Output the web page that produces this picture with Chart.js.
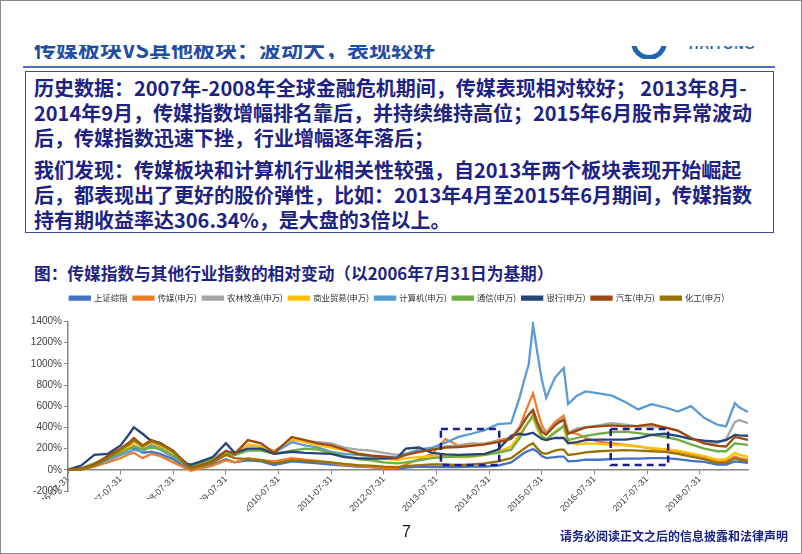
<!DOCTYPE html>
<html>
<head>
<meta charset="utf-8">
<script src="https://cdn.jsdelivr.net/npm/chart.js@4.4.0/dist/chart.umd.min.js"></script>
<style>
  body { margin: 0; width: 802px; height: 554px; overflow: hidden; background: #fff; position: relative;
         font-family: "Liberation Sans Narrow", "Noto Sans CJK SC", sans-serif; }
  .frame { position: absolute; left: 0; top: 0; width: 800px; height: 552px; border: 1px solid #8a8a8a; }
  .clip { position: absolute; overflow: hidden; }
  .title { position: absolute; left: 0; top: -13px; font: bold 22px "Liberation Sans Narrow", "Noto Sans CJK SC", sans-serif;
           color: #1f4ea3; white-space: nowrap; }
  .rule { position: absolute; left: 23px; top: 66px; width: 752px; height: 2px; background: #4f72b8; }
  .box { position: absolute; left: 25px; top: 71px; width: 747px; height: 160px; border: 1.5px solid #3b4ca0; }
  .txt { position: absolute; left: 34px; height: 24px; line-height: 24px; white-space: nowrap;
         font-weight: bold; font-size: 20px; color: #1d2383; }
  .cap { position: absolute; left: 34px; top: 262px; line-height: 22px; white-space: nowrap;
         font-weight: bold; font-size: 16.7px; color: #1d2383; }
  .page { position: absolute; left: 402px; top: 523px; font: 16px "Liberation Sans", sans-serif; color: #111; }
  .foot { position: absolute; left: 560px; top: 527px; font: bold 12px "Noto Sans CJK SC", sans-serif; color: #1d2383; white-space: nowrap; }
  #wrap { position: absolute; left: 0; top: 288px; }
  .cover { position: absolute; left: 1px; top: 499px; width: 246px; height: 22px; background: #fff; }
</style>
</head>
<body>
<div class="frame"></div>
<div class="clip" style="left:34px;top:45px;width:420px;height:14px;">
  <div class="title">传媒板块VS其他板块：波动大，表现较好</div>
</div>
<div class="clip" style="left:625px;top:46px;width:140px;height:13px;">
  <div style="position:absolute;left:6px;top:-22px;width:26px;height:26px;border-radius:50%;border:5px solid #1f64b0;"></div>
  <div style="position:absolute;left:64px;top:-9px;font:bold 13px 'Liberation Sans',sans-serif;color:#1f64b0;letter-spacing:1px;">HAITONG</div>
</div>
<div class="rule"></div>
<div class="box"></div>
<div class="txt" style="top:76px">历史数据：2007年-2008年全球金融危机期间，传媒表现相对较好； 2013年8月-</div>
<div class="txt" style="top:101px">2014年9月，传媒指数增幅排名靠后，并持续维持高位；2015年6月股市异常波动</div>
<div class="txt" style="top:126px">后，传媒指数迅速下挫，行业增幅逐年落后；</div>
<div class="txt" style="top:158px">我们发现：传媒板块和计算机行业相关性较强，自2013年两个板块表现开始崛起</div>
<div class="txt" style="top:183px">后，都表现出了更好的股价弹性，比如：2013年4月至2015年6月期间，传媒指数</div>
<div class="txt" style="top:208px">持有期收益率达306.34%，是大盘的3倍以上。</div>
<div class="cap">图：传媒指数与其他行业指数的相对变动（以2006年7月31日为基期）</div>
<div id="wrap"><canvas id="chart" width="802" height="240"></canvas></div>
<div class="cover"></div>
<div class="page">7</div>
<div class="foot">请务必阅读正文之后的信息披露和法律声明</div>

<script>
// months since 2006-07-31 (month-end observations)
const months = [0,3,6,9,12,14,15,17,19,21,24,27,28,30,33,36,38,41,44,47,51,54,57,60,63,66,69,72,75,77,80,83,86,89,92,95,98,101,103,104,105,106,107,108,109,111,112,113,114,116,118,121,124,127,130,133,136,139,142,145,148,150,152,153,155];

const tickMonths = [0,12,24,36,48,60,72,84,96,108,120,132,144];
const tickLabels = ['2006-07-31','2007-07-31','2008-07-31','2009-07-31','2010-07-31','2011-07-31','2012-07-31',
                    '2013-07-31','2014-07-31','2015-07-31','2016-07-31','2017-07-31','2018-07-31'];

const names = ['上证综指','传媒(申万)','农林牧渔(申万)','商业贸易(申万)','计算机(申万)','通信(申万)','银行(申万)','汽车(申万)','化工(申万)'];
const colors = ['#4472C4','#ED7D31','#A5A5A5','#FFC000','#5B9BD5','#70AD47','#264478','#9E480E','#997300'];

// relative change, %
const shIndex = [0,15,60,100,150, 200,210,160,170,150, 100,20,10,20,50, 100,70,90,80,45, 80,70,60,50,40,
  30,25,15,10,20, 30,25,25,25,30, 30,40,70,130,160, 180,195,170,130,110, 120,125,125,80,85,
  95,95,100,105,105, 110,110,100,85,75, 50,50,80,75,65];
const media = [0,0,30,70,110, 150,160,110,150,130, 70,10,-10,10,40, 90,70,110,90,80, 110,95,85,65,45,
  40,25,15,15,50, 100,150,290,230,250, 240,280,300,410,520, 620,720,560,420,350, 450,480,510,360,340,
  300,265,250,236,220, 200,190,170,145,120, 80,80,125,110,95];
const agri = [0,10,50,100,150, 200,230,200,230,220, 150,60,40,70,120, 170,160,230,220,180, 280,270,260,250,210,
  190,180,160,140,150, 170,190,220,230,240, 250,270,300,400,470, 520,570,450,370,340, 420,460,480,350,390,
  400,420,440,425,410, 410,400,370,300,260, 250,290,450,470,440];
const retail = [0,10,60,120,170, 220,260,220,250,230, 160,50,30,50,90, 160,140,240,220,170, 290,260,230,210,180,
  160,130,110,90,110, 120,130,130,120,120, 140,170,220,330,400, 450,490,380,300,280, 360,390,400,260,240,
  250,245,235,230,220, 205,195,180,155,130, 95,100,160,140,125];
const computer = [0,5,40,90,140, 170,190,170,230,190, 120,40,20,40,80, 150,140,190,190,160, 260,230,210,170,150,
  140,130,125,120,150, 190,210,255,310,340, 375,430,440,690,850, 990,1370,1100,850,680, 870,915,960,620,700,
  740,720,700,640,570, 620,590,550,600,490, 425,410,630,590,545];
const telecom = [0,10,60,110,160, 200,220,190,210,200, 130,50,40,60,100, 150,140,180,180,150, 180,200,190,160,130,
  100,90,70,60,70, 90,110,120,125,130, 140,160,190,300,390, 450,520,400,320,290, 350,380,420,280,300,
  320,340,355,360,345, 330,310,285,240,200, 175,175,250,245,236];
const bank = [0,40,140,150,230, 340,400,340,270,255, 170,60,50,75,120, 250,160,200,200,150, 170,160,155,150,120,
  110,105,105,110,200, 210,160,145,140,145, 150,190,320,340,330, 340,350,320,290,280, 300,300,300,250,260,
  280,285,285,285,300, 330,340,320,290,275, 265,280,330,325,321];
const auto = [0,10,50,130,200, 260,300,230,280,250, 180,50,20,40,80, 180,150,280,250,160, 310,280,250,230,190,
  150,135,125,110,140, 170,190,210,215,225, 240,260,290,390,460, 520,560,440,360,330, 420,450,470,340,370,
  400,410,420,410,415, 430,400,370,300,250, 225,220,310,300,283];
const chem = [0,5,40,110,190, 240,280,220,270,240, 170,40,10,30,70, 140,110,100,90,60, 90,85,80,70,55,
  45,40,30,25,35, 45,50,50,45,50, 60,80,110,170,200, 230,250,200,160,150, 180,190,190,140,150,
  165,175,180,185,180, 175,170,150,125,100, 65,65,110,95,80];

const series = [shIndex, media, agri, retail, computer, telecom, bank, auto, chem];

// highlighted periods (months, %)
const boxes = [
  {from: 85, to: 98.3, low: 45, high: 385},
  {from: 123.7, to: 136.8, low: 45, high: 385}
];

const boxPlugin = {
  id: 'dashBoxes',
  afterDatasetsDraw(chart) {
    const {ctx, scales: {x, y}} = chart;
    ctx.save();
    ctx.strokeStyle = '#1a1f8c';
    ctx.lineWidth = 2.5;
    ctx.setLineDash([7, 5]);
    boxes.forEach(b => {
      const x0 = x.getPixelForValue(b.from), x1 = x.getPixelForValue(b.to);
      const y0 = y.getPixelForValue(b.high), y1 = y.getPixelForValue(b.low);
      ctx.strokeRect(x0, y0, x1 - x0, y1 - y0);
    });
    ctx.restore();
  }
};

// room under the legend, and nudge it right like the original
const legendGap = {
  id: 'legendGap',
  beforeInit(chart) {
    const fit = chart.legend.fit;
    chart.legend.fit = function () {
      fit.bind(chart.legend)();
      this.height += 9;
    };
  },
  afterLayout(chart) {
    chart.legend.left += 23;
    chart.legend.right += 23;
  }
};

const datasets = series.map((vals, i) => ({
  label: names[i],
  data: months.map((m, j) => ({x: m, y: vals[j]})),
  borderColor: colors[i],
  backgroundColor: colors[i],
  borderWidth: 2.3,
  pointRadius: 0,
  tension: 0,
  order: series.length - i
}));

new Chart(document.getElementById('chart'), {
  type: 'line',
  data: {datasets: datasets},
  plugins: [boxPlugin, legendGap],
  options: {
    responsive: false,
    animation: false,
    layout: {padding: {top: 0, right: 54, bottom: 37, left: 0}},
    plugins: {
      legend: {
        position: 'top',
        labels: {
          boxWidth: 20, boxHeight: 3, padding: 6, color: '#333',
          font: {size: 8.4, family: '"Noto Sans CJK SC", sans-serif'},
          sort: (a, b) => a.datasetIndex - b.datasetIndex
        }
      },
      tooltip: {enabled: false}
    },
    scales: {
      x: {
        type: 'linear', min: 0, max: 155,
        position: {y: 0},
        afterBuildTicks: s => { s.ticks = tickMonths.map(v => ({value: v})); },
        grid: {drawOnChartArea: false, tickLength: 4, color: '#868686'},
        border: {color: '#868686', width: 1.5},
        ticks: {
          autoSkip: false, minRotation: 45, maxRotation: 45, padding: 0,
          color: '#404040', font: {size: 9, family: '"Liberation Sans", sans-serif'},
          callback: (v, i) => tickLabels[i]
        }
      },
      y: {
        min: -200, max: 1400,
        afterFit: s => { s.width = 68; },
        grid: {drawOnChartArea: false, tickLength: 4, color: '#868686'},
        border: {color: '#868686', width: 1.5},
        ticks: {
          stepSize: 200, padding: 2,
          color: '#404040', font: {size: 10, family: '"Liberation Sans", sans-serif'},
          callback: v => v + '%'
        }
      }
    }
  }
});
</script>
</body>
</html>
